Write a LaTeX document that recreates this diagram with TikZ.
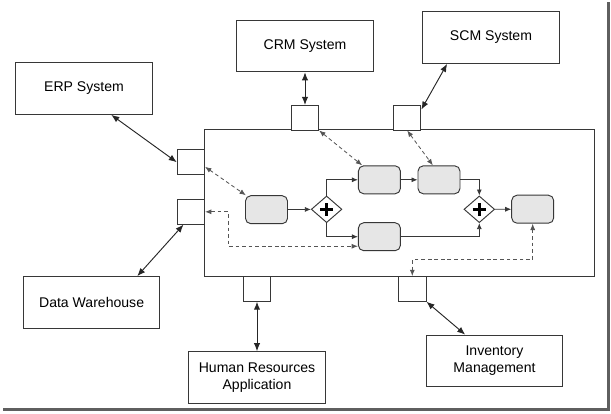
\documentclass[tikz,border=0pt]{standalone}
\usepackage{fontspec}
\setmainfont{Liberation Sans}
\usepackage{tikz}
\usetikzlibrary{shapes.geometric, arrows.meta, positioning, calc}
\definecolor{linegray}{RGB}{55, 55, 55}
\definecolor{taskfill}{RGB}{230, 230, 230}
\definecolor{dashgray}{RGB}{85, 85, 85}
\definecolor{shadegray}{RGB}{95, 95, 95}

\begin{document}
\begin{tikzpicture}[
    x=0.03cm, y=-0.03cm, % pixel grid of the screenshot
    sysbox/.style={rectangle, draw=linegray, fill=white, line width=0.9pt, minimum width=4.1cm, minimum height=1.55cm, align=center, font=\fontsize{12}{14.5}\selectfont},
    pool/.style={rectangle, draw=linegray, fill=white, line width=0.9pt, minimum width=11.69cm, minimum height=4.4cm},
    port/.style={rectangle, draw=linegray, fill=white, line width=0.8pt, minimum width=0.82cm, minimum height=0.74cm, inner sep=0pt},
    task/.style={rectangle, draw=linegray, fill=taskfill, line width=0.8pt, rounded corners=1.6mm, minimum width=1.26cm, minimum height=0.84cm, inner sep=0pt},
    gateway/.style={diamond, draw=linegray, fill=white, line width=0.8pt, minimum width=0.92cm, minimum height=0.8cm, inner sep=0pt,
        path picture={\draw[black, line width=2.5pt] ([xshift=-0.2cm]path picture bounding box.center) -- ([xshift=0.2cm]path picture bounding box.center);
                      \draw[black, line width=2.5pt] ([yshift=-0.2cm]path picture bounding box.center) -- ([yshift=0.2cm]path picture bounding box.center);}},
    link/.style={{Latex[length=2.4mm, width=1.9mm]}-{Latex[length=2.4mm, width=1.9mm]}, line width=0.8pt, draw=black!85},
    flow/.style={-{Latex[length=1.8mm, width=1.5mm]}, line width=0.7pt, draw=linegray},
    msg/.style={{Latex[length=1.9mm, width=1.5mm]}-{Latex[length=1.9mm, width=1.5mm]}, line width=0.7pt, draw=dashgray, dash pattern=on 3.2pt off 2.4pt},
]
\useasboundingbox (0,0) rectangle (611,413);

% Screenshot shadow
\draw[shadegray, line width=1.8pt] (3,409.5) -- (608.5,409.5) -- (608.5,2);

% Outer systems
\node[sysbox] (erp) at (84,88.5) {ERP System};
\node[sysbox] (crm) at (305,46) {CRM System};
\node[sysbox] (scm) at (491,37.5) {SCM System};
\node[sysbox] (dw) at (91.6,302.5) {Data Warehouse};
\node[sysbox] (hr) at (257,377.5) {Human Resources\\Application};
\node[sysbox] (inv) at (494.5,361) {Inventory\\Management};

% Process pool
\node[pool] (proc) at (399.5,203.3) {};

% Interface ports
\node[port] (crmport) at (305,117.7) {};
\node[port] (scmport) at (407.2,117.7) {};
\node[port] (erpport) at (190.9,162.2) {};
\node[port] (dwport) at (190.9,211.8) {};
\node[port] (hrport) at (257,288.9) {};
\node[port] (invport) at (412.3,288.9) {};

% Tasks and gateways
\node[task] (t1) at (266.5,209.7) {};
\node[gateway] (g1) at (326.6,209.3) {};
\node[task] (t2) at (379.4,179.8) {};
\node[task] (t3) at (439,179.8) {};
\node[task] (t4) at (379.4,236.7) {};
\node[gateway] (g2) at (479.3,209.3) {};
\node[task] (t5) at (532.7,209.2) {};

% Sequence flow
\draw[flow] (t1) -- (g1);
\draw[flow] (g1.north) |- (t2.west);
\draw[flow] (g1.south) |- (t4.west);
\draw[flow] (t2) -- (t3);
\draw[flow] (t3.east) -| (g2.north);
\draw[flow] (t4.east) -| (g2.south);
\draw[flow] (g2) -- (t5);

% System links
\draw[link] (erp.-44) -- (erpport.west);
\draw[link] (crm.south) -- (crmport.north);
\draw[link] (scm.-149) -- (scmport.30);
\draw[link] (dw.30) -- (dwport.-120);
\draw[link] (hr.north) -- (hrport.south);
\draw[link] (inv.138) -- (invport.south east);

% Data exchange
\draw[msg] (erpport.-18) -- (t1.145);
\draw[msg] (crmport.south east) -- (t2.140);
\draw[msg] (scmport.south) -- (t3.113);
\draw[msg] (dwport.east) -- ++(23,0) |- (t4.-156);
\draw[msg] (t5.south) -- ++(0,36) -| (invport.north);

\end{tikzpicture}
\end{document}
